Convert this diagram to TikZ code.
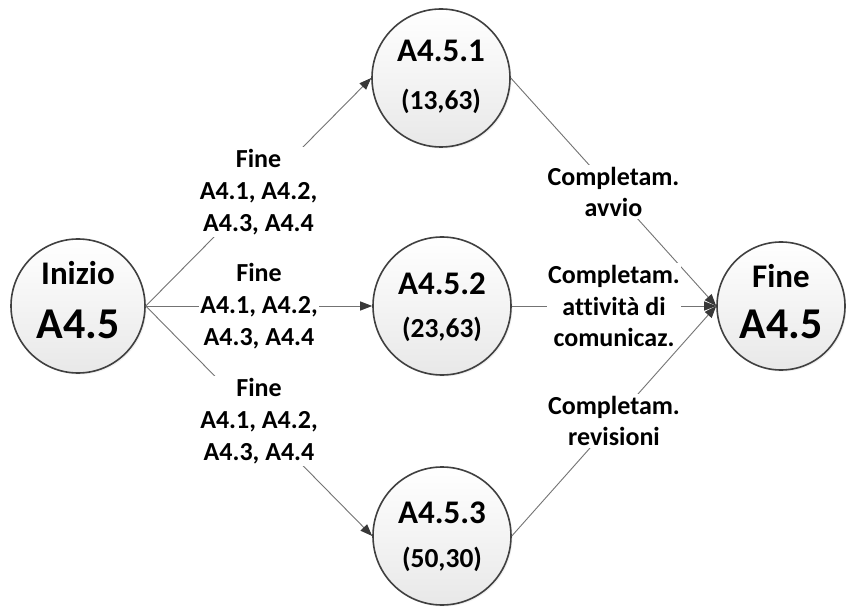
\documentclass[tikz,border=0pt]{standalone}
\usepackage{fontspec}
\setmainfont{Carlito}[Ligatures=CommonOff]
\usetikzlibrary{arrows.meta,shadows}
\begin{document}
\begin{tikzpicture}[x=1pt,y=1pt,
  circ/.style={circle, draw=black!75, line width=1.6pt, top color=white, bottom color=black!9,
    inner sep=0pt, drop shadow={opacity=0.12, shadow xshift=1.5pt, shadow yshift=-1.5pt}},
  conn/.style={draw=black!55, line width=0.9pt, -{Triangle[length=12pt,width=9pt,color=black!78]}},
  lab/.style={fill=white, inner xsep=1.5pt, inner ysep=2pt, align=center,
    font=\fontsize{26}{31.7}\selectfont\bfseries},
  big/.style={anchor=base, inner sep=0pt, font=\fontsize{44}{50}\selectfont\bfseries},
  mid/.style={anchor=base, inner sep=0pt, font=\fontsize{33}{38}\selectfont\bfseries},
  small/.style={anchor=base, inner sep=0pt, font=\fontsize{27.5}{32}\selectfont\bfseries}
]
\useasboundingbox (0,0) rectangle (846,606);
\fill[white] (0,0) rectangle (846,606);

% circles
\node[circ, minimum size=134pt] (ini) at (78,300) {};
\node[circ, minimum size=138pt] (a1) at (441,528) {};
\node[circ, minimum size=138pt] (a2) at (442,300) {};
\node[circ, minimum size=138pt] (a3) at (442,70) {};
\node[circ, minimum size=128pt] (fin) at (781,300) {};

% texts inside circles
\node[mid] (iniT) at ([yshift=21pt]ini.center) {Inizio};
\node[big] (iniB) at ([yshift=-32pt]ini.center) {A4.5};
\node[mid] (finT) at ([yshift=18pt]fin.center) {Fine};
\node[big] (finB) at ([yshift=-32pt]fin.center) {A4.5};
\node[mid] (a1T) at ([yshift=16pt]a1.center) {A4.5.1};
\node[small] (a1B) at ([yshift=-32pt]a1.center) {(13,63)};
\node[mid] (a2T) at ([yshift=11pt]a2.center) {A4.5.2};
\node[small] (a2B) at ([yshift=-31pt]a2.center) {(23,63)};
\node[mid] (a3T) at ([yshift=13pt]a3.center) {A4.5.3};
\node[small] (a3B) at ([yshift=-31pt]a3.center) {(50,30)};

% connectors
\draw[conn] (ini.east) -- (a1.west) node[lab, midway] (l1) {Fine\\A4.1, A4.2,\\A4.3, A4.4};
\draw[conn] (ini.east) -- (a2.west) node[lab, midway] (l2) {Fine\\A4.1, A4.2,\\A4.3, A4.4};
\draw[conn] (ini.east) -- (a3.west) node[lab, midway] (l3) {Fine\\A4.1, A4.2,\\A4.3, A4.4};
\draw[conn] (a1.east) -- (fin.west) node[lab, midway] (r1) {Completam.\\avvio};
\draw[conn] (a2.east) -- (fin.west) node[lab, midway] (r2) {Completam.\\attività di\\comunicaz.};
\draw[conn] (a3.east) -- (fin.west) node[lab, midway] (r3) {Completam.\\revisioni};
\end{tikzpicture}
\end{document}
